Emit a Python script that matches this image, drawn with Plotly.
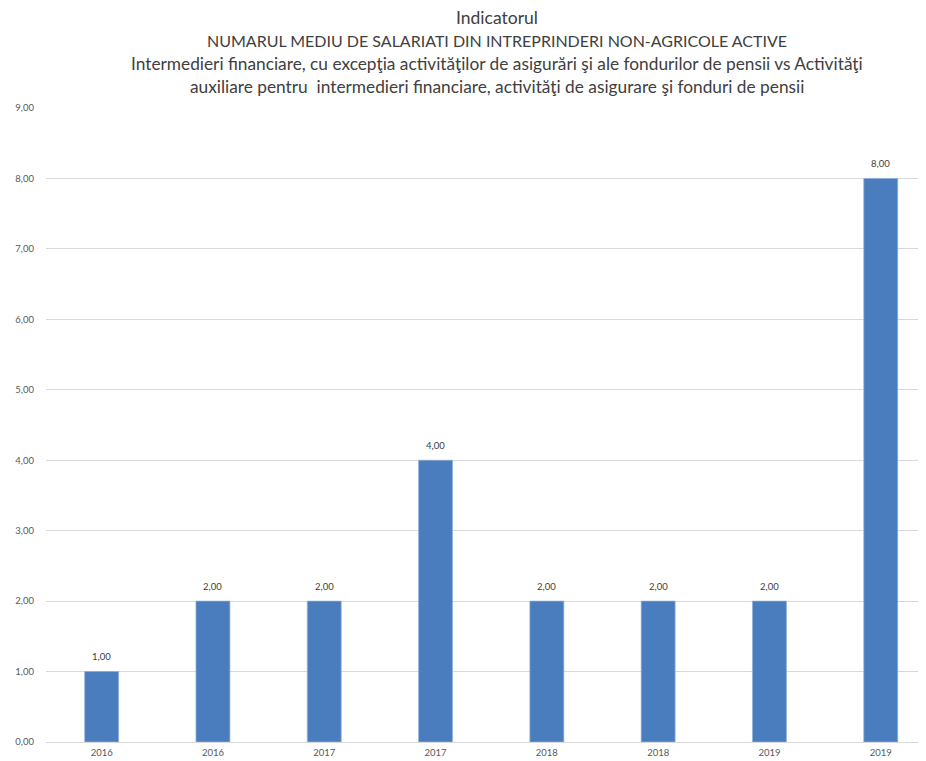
import plotly.graph_objects as go

categories = ["2016", "2016", "2017", "2017", "2018", "2018", "2019", "2019"]
values = [1, 2, 2, 4, 2, 2, 2, 8]
title_lines = [
    "Indicatorul",
    "NUMARUL MEDIU DE SALARIATI DIN INTREPRINDERI NON-AGRICOLE ACTIVE",
    "Intermedieri financiare, cu excepţia activităţilor de asigurări şi ale fondurilor de pensii vs Activităţi",
    "auxiliare pentru  intermedieri financiare, activităţi de asigurare şi fonduri de pensii",
]
title_sizes = [17.5, 16, 17.3, 17.3]
y_ticks = list(range(0, 10))

positions = list(range(len(categories)))

# page body has an 8px margin: figure sits at (8, 8)
OFF = 8
W, H = 910, 753
ml, mr, mt, mb = 46 - OFF, 0, 108 - OFF, 19
plot_h = H - mt - mb
plot_w = W - ml - mr
px_per_cat = 111.3

fig = go.Figure()
fig.add_trace(go.Bar(
    x=positions, y=values, width=0.305,
    marker=dict(color="#4A7DBE", line=dict(color="#8fb0d8", width=0.7)),
    hoverinfo="x+y",
))

label_font = dict(size=9.5, color="#404040", family="Lato, Open Sans, sans-serif")
annotations = []
for p, v in zip(positions, values):
    annotations.append(dict(
        x=p, y=v, xref="x", yref="y", text=f"{v:.2f}".replace(".", ","),
        showarrow=False, yanchor="middle", yshift=15, font=label_font,
    ))

font_fam = "Lato, Open Sans, sans-serif"
title_y_px = [17, 40, 63, 86]
for t, ypx, fs in zip(title_lines, title_y_px, title_sizes):
    annotations.append(dict(
        text=t, xref="paper", yref="paper",
        x=(497 - 46) / plot_w, y=(742 - ypx) / plot_h,
        xanchor="center", yanchor="middle", showarrow=False,
        font=dict(size=fs, color="#404040", family=font_fam),
    ))

fig.update_layout(
    width=W, height=H,
    margin=dict(l=ml, r=mr, t=mt, b=mb, pad=0),
    paper_bgcolor="white", plot_bgcolor="white",
    separators=",.",
    showlegend=False,
    annotations=annotations,
    xaxis=dict(
        tickmode="array", tickvals=positions, ticktext=categories,
        range=[-0.5, -0.5 + plot_w / px_per_cat], showgrid=False, zeroline=False, showline=False,
        ticks="", tickfont=dict(size=9.5, color="#595959", family=font_fam),
        ticklabelstandoff=3,
    ),
    yaxis=dict(
        range=[0, 9], tickmode="array", tickvals=y_ticks, tickformat=".2f",
        showgrid=True, gridcolor="#d9d9d9", gridwidth=1,
        zeroline=True, zerolinecolor="#d9d9d9", zerolinewidth=1,
        showline=False, ticks="",
        tickfont=dict(size=9.5, color="#595959", family=font_fam),
        ticklabelstandoff=11,
    ),
)

fig.write_html("out.html")
